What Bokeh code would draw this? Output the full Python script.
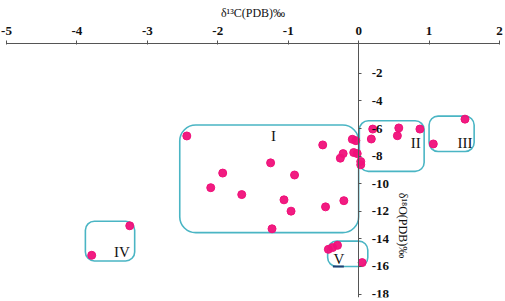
import math
from bokeh.plotting import figure
from bokeh.models import Range1d, LinearAxis, FixedTicker, Label
from bokeh.core.properties import value
from bokeh.embed import file_html
from bokeh.resources import INLINE

# ---- data ----
d13c = [-2.44, -0.51, -0.09, -0.04, -0.22, -0.26, -0.07, -0.02, 0.03, 0.03,
        -1.25, -1.93, -0.91, -2.10, -1.66, -1.06, -0.21, -0.47, -0.96, -1.23,
        0.20, 0.18, 0.57, 0.55, 0.87,
        1.51, 1.06,
        -3.25, -3.79,
        -0.43, -0.37, -0.30, 0.05]
d18o = [-6.54, -7.19, -6.78, -6.88, -7.82, -8.15, -7.74, -7.82, -8.39, -8.63,
        -8.49, -9.23, -9.37, -10.29, -10.79, -11.17, -11.23, -11.68, -11.99, -13.27,
        -6.04, -6.76, -5.96, -6.52, -6.04,
        -5.32, -7.12,
        -13.05, -15.19,
        -14.76, -14.63, -14.47, -15.72]

box_names = ["I", "II", "III", "IV", "V"]
box_left = [-2.54, 0.01, 1.00, -3.88, -0.44]
box_right = [0.00, 0.93, 1.64, -3.18, 0.13]
box_top = [-5.75, -5.44, -5.10, -12.72, -14.16]
box_bottom = [-13.55, -9.11, -7.67, -15.60, -16.00]
label_x = [-1.21, 0.81, 1.51, -3.36, -0.28]
label_y = [-6.54, -7.07, -7.07, -14.95, -15.43]

x_ticks = [-5, -4, -3, -2, -1, 0, 1, 2]
x_tick_labels = ["-5", "-4", "-3", "-2", "-1", "0", "1", "2"]
y_ticks = [-2, -4, -6, -8, -10, -12, -14, -16, -18]
y_tick_labels = ["-2", "-4", "-6", "-8", "-10", "-12", "-14", "-16", "-18"]

# underline mark under "V"
mark_x = [-0.365, -0.21]
mark_y = [-16.0, -16.0]

# ---- styles ----
box_radius = [16, 9, 9, 9, 9]
BOX_COLOR = "#4ab5c4"
DOT_COLOR = "#f0107a"
FONT = "Liberation Serif"

p = figure(width=505, height=301,
           x_range=Range1d(-5.0, 2.0), y_range=Range1d(-18.25, 0.163),
           x_axis_location="above", y_axis_location=None,
           output_backend="svg", toolbar_location=None,
           min_border_left=6, min_border_right=6,
           min_border_top=43, min_border_bottom=4)
p.xgrid.visible = False
p.ygrid.visible = False
p.outline_line_color = None
p.background_fill_color = "white"

xa = p.xaxis[0]
xa.ticker = FixedTicker(ticks=x_ticks)
xa.major_label_overrides = {t: s for t, s in zip(x_ticks, x_tick_labels)}
xa.axis_label = "δ¹³C(PDB)‰"
xa.axis_label_text_font = FONT
xa.axis_label_text_font_style = "normal"
xa.axis_label_text_font_size = "12px"
xa.axis_label_standoff = 4
xa.major_label_text_font = FONT
xa.major_label_text_font_size = "13px"
xa.major_label_text_font_style = "bold"
xa.major_label_standoff = 6
xa.major_tick_out = 3
xa.major_tick_in = 1
xa.minor_tick_out = 0
xa.minor_tick_in = 0
xa.axis_line_color = "#555555"
xa.major_tick_line_color = "#555555"
xa.major_label_text_color = "#111111"
xa.axis_label_text_color = "#111111"

ya = LinearAxis(fixed_location=0, ticker=FixedTicker(ticks=y_ticks))
ya.major_label_overrides = {t: s for t, s in zip(y_ticks, y_tick_labels)}
ya.major_label_text_font = FONT
ya.major_label_text_font_size = "13px"
ya.major_label_text_font_style = "bold"
ya.major_label_standoff = 10
ya.major_tick_out = 3
ya.major_tick_in = 0
ya.minor_tick_out = 0
ya.minor_tick_in = 0
ya.axis_line_color = "#555555"
ya.major_tick_line_color = "#555555"
ya.major_label_text_color = "#111111"
p.add_layout(ya, "right")

for i in range(len(box_names)):
    p.quad(left=[box_left[i]], right=[box_right[i]], top=[box_top[i]], bottom=[box_bottom[i]],
           fill_color=None, line_color=BOX_COLOR, line_width=1.6,
           border_radius=box_radius[i])

p.line(mark_x, mark_y, line_color="#1f3f73", line_width=2)

p.scatter(d13c, d18o, size=8, fill_color=DOT_COLOR, line_color=DOT_COLOR, fill_alpha=0.95)

p.text(label_x, label_y, text=box_names, text_font=value(FONT), text_font_size="15px",
       text_align="center", text_baseline="middle", text_color="#111111")

p.add_layout(Label(x=0.625, y=-13.03, text="δ¹⁸O(PDB)‰", angle=-math.pi / 2,
                   text_font=FONT, text_font_size="12px", text_color="#111111",
                   text_align="center", text_baseline="middle"))

open("out.html", "w").write(file_html(p, INLINE))
